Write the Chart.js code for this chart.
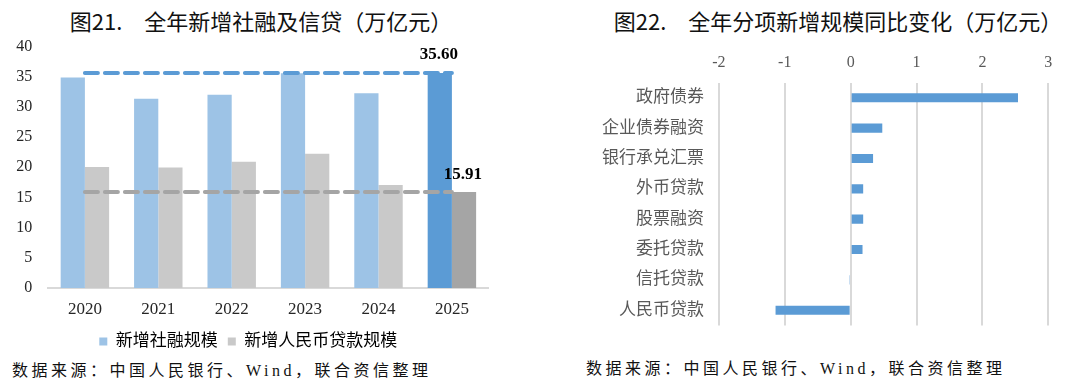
<!DOCTYPE html>
<html>
<head>
<meta charset="utf-8">
<script src="https://cdn.jsdelivr.net/npm/chart.js@4.4.1/dist/chart.umd.min.js"></script>
<style>
  body { margin: 0; background: #fff; width: 1080px; height: 383px; position: relative; overflow: hidden; }
  .title { position: absolute; top: 7px; font-family: "Noto Sans CJK SC", sans-serif; font-size: 22px; line-height: 26px; color: #111; white-space: pre; transform: translateX(-50%); }
  .src { position: absolute; font-family: "Liberation Serif", "Noto Sans CJK SC", serif; font-size: 16px; line-height: 20px; letter-spacing: 3.5px; color: #111; white-space: pre; }
  .wrap { position: absolute; top: 0; }
</style>
</head>
<body>
<div class="title" style="left:261px">图21.　全年新增社融及信贷（万亿元）</div>
<div class="title" style="left:838px">图22.　全年分项新增规模同比变化（万亿元）</div>

<div class="wrap" style="left:0;width:540px;height:360px"><canvas id="leftChart"></canvas></div>
<div class="wrap" style="left:540px;width:540px;height:330px"><canvas id="rightChart"></canvas></div>

<div class="src" style="left:12px;top:361px">数据来源：中国人民银行、Wind，联合资信整理</div>
<div class="src" style="left:586px;top:359px">数据来源：中国人民银行、Wind，联合资信整理</div>

<script>
// left chart data
const years = ['2020', '2021', '2022', '2023', '2024', '2025'];
const socialFinancing = [34.86, 31.35, 32.01, 35.59, 32.26, 35.60];
const rmbLoans = [20.03, 19.94, 20.91, 22.22, 17.05, 15.91];
const sfLevel = [35.60, 35.60, 35.60, 35.60, 35.60, 35.60];
const loanLevel = [15.91, 15.91, 15.91, 15.91, 15.91, 15.91];
const leftTicks = [0, 5, 10, 15, 20, 25, 30, 35, 40];

// right chart data
const items = ['政府债券', '企业债券融资', '银行承兑汇票', '外币贷款', '股票融资', '委托贷款', '信托贷款', '人民币贷款'];
const itemChanges = [2.54, 0.48, 0.34, 0.19, 0.19, 0.18, -0.02, -1.14];
const rightTicks = [-2, -1, 0, 1, 2, 3];

const serif = '"Liberation Serif", "Times New Roman", serif';
const cjk = '"Liberation Serif", "Noto Sans CJK SC", serif';

const lastIdx = years.length - 1;
const sfColors = years.map((y, i) => i === lastIdx ? '#5B9BD5' : '#9DC3E6');
const loanColors = years.map((y, i) => i === lastIdx ? '#A5A5A5' : '#C9C9C9');

// draws the value of the last point of each dashed line
const lastLabelPlugin = {
    id: 'lastLabel',
    afterDatasetsDraw(chart, args, opts) {
        const ctx = chart.ctx;
        ctx.save();
        ctx.font = 'bold 17px ' + serif;
        ctx.fillStyle = '#000';
        ctx.textAlign = 'center';
        ctx.textBaseline = 'middle';
        chart.data.datasets.forEach((ds, i) => {
            if (ds.type !== 'line') return;
            const meta = chart.getDatasetMeta(i);
            const pt = meta.data[meta.data.length - 1];
            const off = opts.offsets[i] || [0, -18];
            ctx.fillText(ds.data[ds.data.length - 1].toFixed(2), pt.x + off[0], pt.y + off[1]);
        });
        ctx.restore();
    }
};

new Chart(document.getElementById('leftChart'), {
    data: {
        labels: years,
        datasets: [
            {
                type: 'line', label: 'sfLevel', data: sfLevel, order: 0,
                borderColor: '#5B9BD5', borderWidth: 4, borderDash: [13, 7], borderCapStyle: 'round',
                pointRadius: 0, fill: false
            },
            {
                type: 'line', label: 'loanLevel', data: loanLevel, order: 0,
                borderColor: '#A5A5A5', borderWidth: 4, borderDash: [13, 7], borderCapStyle: 'round',
                pointRadius: 0, fill: false
            },
            {
                type: 'bar', label: '新增社融规模', data: socialFinancing, order: 1,
                backgroundColor: sfColors, barPercentage: 1, categoryPercentage: 0.66
            },
            {
                type: 'bar', label: '新增人民币贷款规模', data: rmbLoans, order: 1,
                backgroundColor: loanColors, barPercentage: 1, categoryPercentage: 0.66
            }
        ]
    },
    options: {
        responsive: true,
        maintainAspectRatio: false,
        animation: false,
        layout: { padding: { top: 46.5, right: 51.4, left: 8, bottom: 0 } },
        scales: {
            x: {
                grid: { display: false, drawTicks: false },
                border: { display: true, color: '#D9D9D9', width: 2 },
                ticks: { font: { family: serif, size: 17 }, color: '#262626', padding: 11 },
                afterFit: (scale) => { scale.height = 35; }
            },
            y: {
                min: 0, max: 40,
                afterBuildTicks: (scale) => { scale.ticks = leftTicks.map(v => ({ value: v })); },
                grid: { display: false, drawTicks: false },
                border: { display: false },
                ticks: { font: { family: serif, size: 16 }, color: '#262626', padding: 16 },
                afterFit: (scale) => { scale.width = 40.2; }
            }
        },
        plugins: {
            tooltip: { enabled: false },
            lastLabel: { offsets: { 0: [-13, -18], 1: [11, -17] } },
            legend: {
                position: 'bottom',
                labels: {
                    font: { family: cjk, size: 17 },
                    color: '#595959',
                    boxWidth: 8, boxHeight: 8, padding: 10,
                    generateLabels: (chart) => [
                        { text: '新增社融规模', fillStyle: '#9DC3E6', strokeStyle: '#9DC3E6', lineWidth: 0, datasetIndex: 2 },
                        { text: '新增人民币贷款规模', fillStyle: '#C9C9C9', strokeStyle: '#C9C9C9', lineWidth: 0, datasetIndex: 3 }
                    ]
                }
            }
        }
    },
    plugins: [lastLabelPlugin]
});

new Chart(document.getElementById('rightChart'), {
    type: 'bar',
    data: {
        labels: items,
        datasets: [{
            label: '同比变化', data: itemChanges,
            backgroundColor: '#5B9BD5', barPercentage: 1, categoryPercentage: 0.3
        }]
    },
    options: {
        indexAxis: 'y',
        responsive: true,
        maintainAspectRatio: false,
        animation: false,
        layout: { padding: { top: 0, right: 31.7, left: 0, bottom: 4.6 } },
        scales: {
            x: {
                position: 'top',
                min: -2, max: 3,
                afterBuildTicks: (scale) => { scale.ticks = rightTicks.map(v => ({ value: v })); },
                grid: { color: '#D9D9D9', lineWidth: 2, drawTicks: false },
                border: { display: false },
                ticks: { font: { family: serif, size: 16 }, color: '#595959', padding: 10 },
                afterFit: (scale) => { scale.height = 82.6; }
            },
            y: {
                grid: { display: false, drawTicks: false },
                border: { display: false },
                ticks: { font: { family: cjk, size: 17 }, color: '#595959', padding: 15 },
                afterFit: (scale) => {
                    scale.width = 178.9;
                    // labels sit inside the plot, no extra room needed above/below
                    scale.paddingTop = 0;
                    scale.paddingBottom = 0;
                }
            }
        },
        plugins: {
            tooltip: { enabled: false },
            legend: { display: false }
        }
    }
});
</script>
</body>
</html>
